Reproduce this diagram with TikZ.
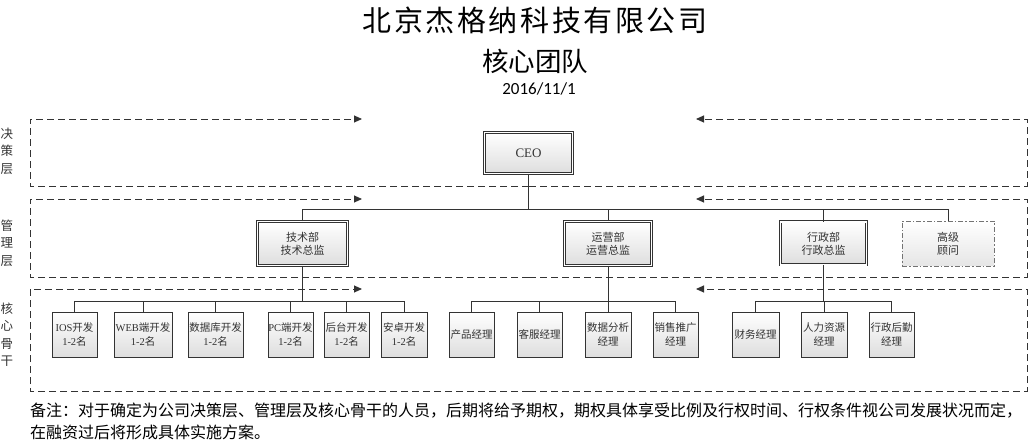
\documentclass[tikz,border=0pt]{standalone}
\usepackage{fontspec}
\setmainfont{Noto Sans CJK SC}
\newfontfamily\titlefont[LetterSpace=9]{Noto Sans CJK SC}
\newfontfamily\datefont{Carlito}
\newfontfamily\lat{Liberation Serif}
\usetikzlibrary{arrows.meta}
\definecolor{ln}{HTML}{333333}
\definecolor{tx}{HTML}{333333}
\tikzset{
  band/.style={draw=ln, line width=0.9pt, dash pattern=on 7pt off 4pt,
    -{Triangle[length=8pt,width=7pt]}},
  lead/.style={draw=ln, line width=0.7pt, double=white, double distance=1.6pt,
    top color=white, bottom color=black!13, inner sep=0pt,
    font=\fontsize{11}{13}\selectfont, text=tx, align=center},
  member/.style={draw=ln, line width=0.7pt, top color=white, bottom color=black!13,
    minimum height=45pt, inner sep=0pt, font=\fontsize{10.5}{14}\selectfont,
    text=tx, align=center},
  advisor/.style={draw=black!55, line width=0.7pt,
    dash pattern=on 5pt off 2pt on 1.5pt off 2pt,
    top color=white, bottom color=black!10, inner sep=0pt,
    minimum width=92pt, minimum height=45pt,
    font=\fontsize{11}{13}\selectfont, text=tx, align=center},
  layer/.style={font=\fontsize{12.5}{17.5}\selectfont, text=tx, align=center, inner sep=0pt},
  edge/.style={draw=ln, line width=0.8pt}
}
\begin{document}
\begin{tikzpicture}[x=1pt,y=-1pt]
\useasboundingbox (0,0) rectangle (1030,443);

% titles
\node[anchor=base, inner sep=0pt, font=\titlefont\fontsize{29}{32}\selectfont] (title) at (535,32) {北京杰格纳科技有限公司};
\node[anchor=base, inner sep=0pt, font=\fontsize{26.5}{30}\selectfont] (sub) at (535,71.5) {核心团队};
\node[anchor=base, inner sep=0pt, font=\datefont\fontsize{17}{20}\selectfont] (date) at (539,95) {2016/11/1};

% bands
\foreach \t/\b in {119/186,199/277,289/391} {
  \draw[band] (529,\b) -| (30,\t) -- (362,\t);
  \draw[band] (529,\b) -| (1027,\t) -- (696,\t);
}

% layer labels
\node[layer] (l1) at (7,151) {决\\策\\层};
\node[layer] (l2) at (7,243) {管\\理\\层};
\node[layer] (l3) at (7,334.5) {核\\心\\骨\\干};

% bus coordinates
\coordinate (bus1) at (0,209);
\coordinate (bus2) at (0,301);

% leaders
\node[lead, minimum width=88pt, minimum height=41pt, font=\lat\fontsize{13}{15}\selectfont] (ceo) at (528.5,153) {CEO};
\node[lead, minimum width=90pt, minimum height=44pt] (tech) at (302.5,243.5) {技术部\\技术总监};
\node[lead, minimum width=87pt, minimum height=44pt] (ops) at (608,243.5) {运营部\\运营总监};
\node[lead, minimum width=86pt, minimum height=43pt] (adm) at (823.5,243.5) {行政部\\行政总监};
\node[advisor] (adv) at (948,243.5) {高级\\顾问};

% members
\node[member, minimum width=45pt] (ios) at (74.5,334.5) {{\lat IOS}开发\\{\lat 1-2}名};
\node[member, minimum width=58pt] (web) at (143,334.5) {{\lat WEB}端开发\\{\lat 1-2}名};
\node[member, minimum width=55pt] (db) at (215.5,334.5) {数据库开发\\{\lat 1-2}名};
\node[member, minimum width=45pt] (pc) at (290.5,334.5) {{\lat PC}端开发\\{\lat 1-2}名};
\node[member, minimum width=45pt] (bk) at (346.5,334.5) {后台开发\\{\lat 1-2}名};
\node[member, minimum width=46pt] (az) at (404,334.5) {安卓开发\\{\lat 1-2}名};
\node[member, minimum width=45pt] (pm) at (471.5,334.5) {产品经理};
\node[member, minimum width=45pt] (cs) at (539.5,334.5) {客服经理};
\node[member, minimum width=46pt] (da) at (608,334.5) {数据分析\\经理};
\node[member, minimum width=45pt] (sm) at (675.5,334.5) {销售推广\\经理};
\node[member, minimum width=47pt] (fm) at (755.5,334.5) {财务经理};
\node[member, minimum width=46pt] (hr) at (824,334.5) {人力资源\\经理};
\node[member, minimum width=45pt] (ad) at (891.5,334.5) {行政后勤\\经理};

% connectors: top level
\draw[edge] (ceo.south) -- (ceo.south |- bus1);
\draw[edge] (tech.north) -- (tech.north |- bus1) -- (adv.north |- bus1) -- (adv.north);
\draw[edge] (ops.north) -- (ops.north |- bus1);
\draw[edge] (adm.north) -- (adm.north |- bus1);

% tech children
\draw[edge] (tech.south) -- (tech.south |- bus2);
\draw[edge] (ios.north) -- (ios.north |- bus2) -- (az.north |- bus2) -- (az.north);
\foreach \c in {web,db,pc,bk} \draw[edge] (\c.north) -- (\c.north |- bus2);

% ops children
\draw[edge] (ops.south) -- (ops.south |- bus2);
\draw[edge] (pm.north) -- (pm.north |- bus2) -- (sm.north |- bus2) -- (sm.north);
\foreach \c in {cs,da} \draw[edge] (\c.north) -- (\c.north |- bus2);

% admin children
\draw[edge] (adm.south) -- (adm.south |- bus2);
\draw[edge] (fm.north) -- (fm.north |- bus2) -- (ad.north |- bus2) -- (ad.north);
\draw[edge] (hr.north) -- (hr.north |- bus2);

% note
\node[anchor=base west, inner sep=0pt, font=\fontsize{16}{22}\selectfont] (note1) at (30,416) {备注：对于确定为公司决策层、管理层及核心骨干的人员，后期将给予期权，期权具体享受比例及行权时间、行权条件视公司发展状况而定，};
\node[anchor=base west, inner sep=0pt, font=\fontsize{16}{22}\selectfont] (note2) at (30,438) {在融资过后将形成具体实施方案。};
\end{tikzpicture}
\end{document}
